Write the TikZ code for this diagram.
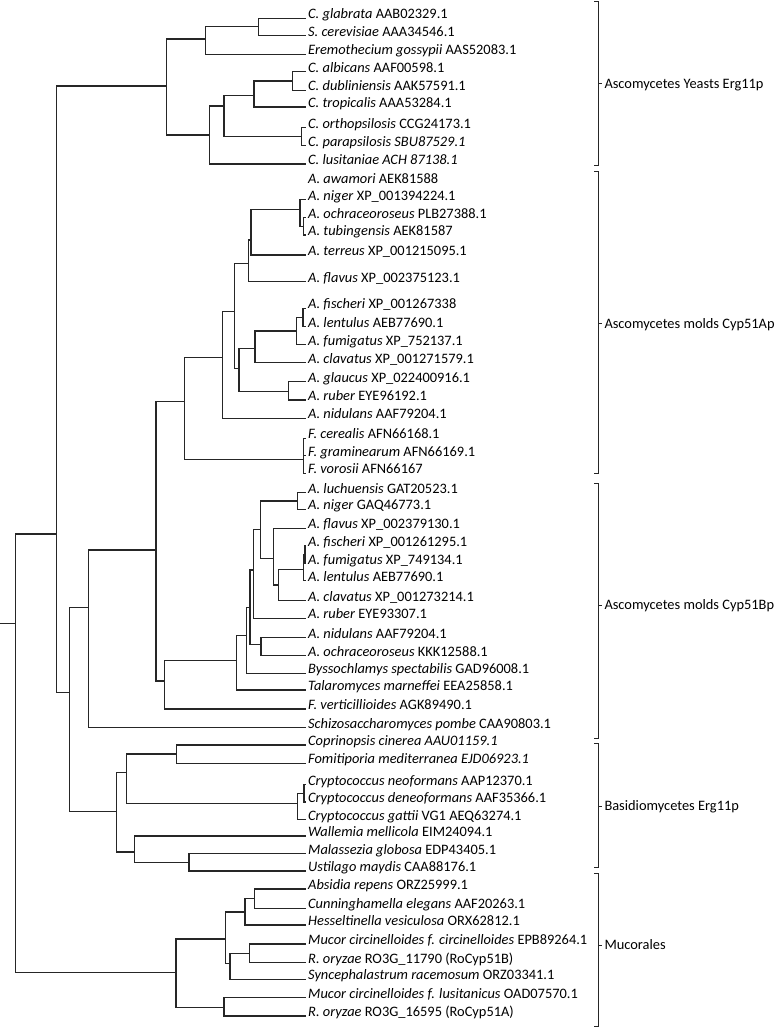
\documentclass[tikz,border=0pt]{standalone}
\usepackage{fontspec}
\setmainfont{Carlito}
\newcommand\mkleaf[3]{\coordinate (#1) at (306,#2);\node[lab] (t#1) at (#1) {#3};}
\newcommand\mknode[3]{\coordinate (#1) at (#2,#3);}
\newcommand\tedge[2]{\draw[br] (#1) |- (#2);}
\newcommand\mkbrace[5]{%
 \coordinate (#1a) at (594,#2); \coordinate (#1b) at (598.3,#2);
 \coordinate (#1c) at (598.3,#3); \coordinate (#1d) at (594,#3);
 \coordinate (#1m) at (598.3,#4); \coordinate (#1n) at (601.7,#4);
 \draw[brk] (#1a) -- (#1b) -- (#1c) -- (#1d);
 \draw[brk] (#1m) -- (#1n);
 \node[grp] (#1t) at (604.3,#4) {#5};}
\begin{document}
\begin{tikzpicture}[x=1bp,y=-1bp,
  br/.style={line width=1.1bp, draw=black!85},
  brk/.style={line width=1bp, draw=black!85},
  lab/.style={anchor=base west, inner sep=0pt, xshift=2bp, yshift=-0.5bp, font=\fontsize{14.4bp}{17bp}\selectfont},
  grp/.style={anchor=base west, inner sep=0pt, yshift=-4.7bp, font=\fontsize{14.4bp}{17bp}\selectfont}]
\fill[white] (0,0) rectangle (777,1027);
\useasboundingbox (0,0) rectangle (777,1027);
% ---- leaves ----
\mkleaf{l1}{18.3}{\textit{C. glabrata} AAB02329.1}
\mkleaf{l2}{35.7}{\textit{S. cerevisiae} AAA34546.1}
\mkleaf{l3}{54.3}{\textit{Eremothecium gossypii} AAS52083.1}
\mkleaf{l4}{71.7}{\textit{C. albicans} AAF00598.1}
\mkleaf{l5}{90.3}{\textit{C. dubliniensis} AAK57591.1}
\mkleaf{l6}{107}{\textit{C. tropicalis} AAA53284.1}
\mkleaf{l7}{127.7}{\textit{C. orthopsilosis} CCG24173.1}
\mkleaf{l8}{145.7}{\textit{C. parapsilosis SBU87529.1}}
\mkleaf{l9}{164}{\textit{C. lusitaniae ACH 87138.1}}
\mkleaf{l10}{183}{\textit{A. awamori} AEK81588}
\mkleaf{l11}{199.5}{\textit{A. niger} XP\_001394224.1}
\mkleaf{l12}{217.5}{\textit{A. ochraceoroseus} PLB27388.1}
\mkleaf{l13}{235}{\textit{A. tubingensis} AEK81587}
\mkleaf{l14}{255}{\textit{A. terreus} XP\_001215095.1}
\mkleaf{l15}{281.7}{\textit{A. flavus} XP\_002375123.1}
\mkleaf{l16}{308.3}{\textit{A. fischeri} XP\_001267338}
\mkleaf{l17}{326.5}{\textit{A. lentulus} AEB77690.1}
\mkleaf{l18}{344.5}{\textit{A. fumigatus} XP\_752137.1}
\mkleaf{l19}{362.5}{\textit{A. clavatus} XP\_001271579.1}
\mkleaf{l20}{381.7}{\textit{A. glaucus} XP\_022400916.1}
\mkleaf{l21}{400}{\textit{A. ruber} EYE96192.1}
\mkleaf{l22}{418.3}{\textit{A. nidulans} AAF79204.1}
\mkleaf{l23}{438.3}{\textit{F. cerealis} AFN66168.1}
\mkleaf{l24}{455.5}{\textit{F. graminearum} AFN66169.1}
\mkleaf{l25}{473.3}{\textit{F. vorosii} AFN66167}
\mkleaf{l26}{492.7}{\textit{A. luchuensis} GAT20523.1}
\mkleaf{l27}{509.3}{\textit{A. niger} GAQ46773.1}
\mkleaf{l28}{528.3}{\textit{A. flavus} XP\_002379130.1}
\mkleaf{l29}{546}{\textit{A. fischeri} XP\_001261295.1}
\mkleaf{l30}{563.5}{\textit{A. fumigatus} XP\_749134.1}
\mkleaf{l31}{580.5}{\textit{A. lentulus} AEB77690.1}
\mkleaf{l32}{600.7}{\textit{A. clavatus} XP\_001273214.1}
\mkleaf{l33}{618.3}{\textit{A. ruber} EYE93307.1}
\mkleaf{l34}{637.5}{\textit{A. nidulans} AAF79204.1}
\mkleaf{l35}{655.5}{\textit{A. ochraceoroseus} KKK12588.1}
\mkleaf{l36}{673.3}{\textit{Byssochlamys spectabilis} GAD96008.1}
\mkleaf{l37}{690}{\textit{Talaromyces marneffei} EEA25858.1}
\mkleaf{l38}{709}{\textit{F. verticillioides} AGK89490.1}
\mkleaf{l39}{727.7}{\textit{Schizosaccharomyces pombe} CAA90803.1}
\mkleaf{l40}{745}{\textit{Coprinopsis cinerea AAU01159.1}}
\mkleaf{l41}{763.3}{\textit{Fomitiporia mediterranea EJD06923.1}}
\mkleaf{l42}{784.5}{\textit{Cryptococcus neoformans} AAP12370.1}
\mkleaf{l43}{802}{\textit{Cryptococcus deneoformans} AAF35366.1}
\mkleaf{l44}{819.5}{\textit{Cryptococcus gattii} VG1 AEQ63274.1}
\mkleaf{l45}{836}{\textit{Wallemia mellicola} EIM24094.1}
\mkleaf{l46}{853.5}{\textit{Malassezia globosa} EDP43405.1}
\mkleaf{l47}{871}{\textit{Ustilago maydis} CAA88176.1}
\mkleaf{l48}{889}{\textit{Absidia repens} ORZ25999.1}
\mkleaf{l49}{908.3}{\textit{Cunninghamella elegans} AAF20263.1}
\mkleaf{l50}{925}{\textit{Hesseltinella vesiculosa} ORX62812.1}
\mkleaf{l51}{944}{\textit{Mucor circinelloides f. circinelloides} EPB89264.1}
\mkleaf{l52}{962.7}{\textit{R. oryzae} RO3G\_11790 (RoCyp51B)}
\mkleaf{l53}{979.3}{\textit{Syncephalastrum racemosum} ORZ03341.1}
\mkleaf{l54}{997.7}{\textit{Mucor circinelloides f. lusitanicus} OAD07570.1}
\mkleaf{l55}{1016}{\textit{R. oryzae} RO3G\_16595 (RoCyp51A)}
% ---- internal nodes ----
\mknode{y1}{258.3}{26.7}
\mknode{y2}{205.7}{39}
\mknode{y3}{292.3}{81}
\mknode{y4}{254}{95.7}
\mknode{y5}{301.7}{136.7}
\mknode{y6}{224}{106}
\mknode{y7}{209.3}{135}
\mknode{Y}{166.7}{86}
\mknode{a1}{303.3}{226.2}
\mknode{a2}{300}{209.3}
\mknode{a3}{251}{240}
\mknode{a4}{248.3}{263.3}
\mknode{a5}{303}{317.4}
\mknode{a6}{296.7}{331}
\mknode{a7}{255}{348.3}
\mknode{a8}{288.3}{391.7}
\mknode{a9}{239}{368.3}
\mknode{a10}{234.3}{311.7}
\mknode{a11}{222.7}{357.3}
\mknode{a12}{303.3}{459.3}
\mknode{A}{184.3}{401.7}
\mknode{b1}{297.3}{501}
\mknode{b2}{305}{554.8}
\mknode{b3}{303.3}{569.3}
\mknode{b4}{278.3}{585}
\mknode{b5}{273.3}{558.3}
\mknode{b6}{260.7}{529.3}
\mknode{b7}{253.3}{570}
\mknode{b8}{261}{644.7}
\mknode{b9}{250}{607.3}
\mknode{b10}{246.7}{635.7}
\mknode{b11}{236.7}{660.7}
\mknode{b12}{164.3}{681}
\mknode{b13}{156}{550}
\mknode{b14}{88.3}{607.3}
\mknode{c1}{176.7}{754}
\mknode{c2}{304}{793.2}
\mknode{c3}{297.8}{803.3}
\mknode{c4}{126.7}{772.7}
\mknode{c5}{189}{862.7}
\mknode{c6}{134.3}{852}
\mknode{C}{116.7}{811.7}
\mknode{g}{69.3}{692.7}
\mknode{h}{56.3}{534}
\mknode{m1}{254.3}{898.7}
\mknode{m2}{245}{912}
\mknode{m3}{249.3}{953.3}
\mknode{m4}{230}{963.3}
\mknode{m5}{225.7}{939}
\mknode{m6}{224}{1007.3}
\mknode{M}{176}{972.7}
\mknode{root}{15.3}{623.3}
\mknode{r0}{0}{623.3}
% ---- connectors ----
\tedge{y1}{l1}\tedge{y1}{l2}
\tedge{y2}{y1}\tedge{y2}{l3}
\tedge{y3}{l4}\tedge{y3}{l5}
\tedge{y4}{y3}\tedge{y4}{l6}
\tedge{y5}{l7}\tedge{y5}{l8}
\tedge{y6}{y4}\tedge{y6}{y5}
\tedge{y7}{y6}\tedge{y7}{l9}
\tedge{Y}{y2}\tedge{Y}{y7}
\tedge{a1}{l12}\tedge{a1}{l13}
\tedge{a2}{l11}\tedge{a2}{a1}
\tedge{a3}{a2}\tedge{a3}{l14}
\tedge{a4}{a3}\tedge{a4}{l15}
\tedge{a5}{l16}\tedge{a5}{l17}
\tedge{a6}{a5}\tedge{a6}{l18}
\tedge{a7}{a6}\tedge{a7}{l19}
\tedge{a8}{l20}\tedge{a8}{l21}
\tedge{a9}{a7}\tedge{a9}{a8}
\tedge{a10}{a4}\tedge{a10}{a9}
\tedge{a11}{a10}\tedge{a11}{l22}
\tedge{a12}{l23}\tedge{a12}{l24}\tedge{a12}{l25}
\tedge{A}{a11}\tedge{A}{a12}
\tedge{b1}{l26}\tedge{b1}{l27}
\tedge{b2}{l29}\tedge{b2}{l30}
\tedge{b3}{b2}\tedge{b3}{l31}
\tedge{b4}{b3}\tedge{b4}{l32}
\tedge{b5}{l28}\tedge{b5}{b4}
\tedge{b6}{b1}\tedge{b6}{b5}
\tedge{b7}{b6}\tedge{b7}{l33}
\tedge{b8}{l34}\tedge{b8}{l35}
\tedge{b9}{b7}\tedge{b9}{b8}
\tedge{b10}{b9}\tedge{b10}{l36}
\tedge{b11}{b10}\tedge{b11}{l37}
\tedge{b12}{b11}\tedge{b12}{l38}
\tedge{b13}{A}\tedge{b13}{b12}
\tedge{b14}{b13}\tedge{b14}{l39}
\tedge{c1}{l40}\tedge{c1}{l41}
\tedge{c2}{l42}\tedge{c2}{l43}
\tedge{c3}{c2}\tedge{c3}{l44}
\tedge{c4}{c1}\tedge{c4}{c3}
\tedge{c5}{l46}\tedge{c5}{l47}
\tedge{c6}{l45}\tedge{c6}{c5}
\tedge{C}{c4}\tedge{C}{c6}
\tedge{g}{b14}\tedge{g}{C}
\tedge{h}{Y}\tedge{h}{g}
\tedge{m1}{l48}\tedge{m1}{l49}
\tedge{m2}{m1}\tedge{m2}{l50}
\tedge{m3}{l51}\tedge{m3}{l52}
\tedge{m4}{m3}\tedge{m4}{l53}
\tedge{m5}{m2}\tedge{m5}{m4}
\tedge{m6}{l54}\tedge{m6}{l55}
\tedge{M}{m5}\tedge{M}{m6}
\tedge{root}{h}\tedge{root}{M}
\draw[br] (r0) -- (root);
% ---- group brackets ----
\mkbrace{k1}{1.7}{165}{83.3}{Ascomycetes Yeasts Erg11p}
\mkbrace{k2}{171.7}{473.3}{323.3}{Ascomycetes molds Cyp51Ap}
\mkbrace{k3}{483.3}{738.3}{605}{Ascomycetes molds Cyp51Bp}
\mkbrace{k4}{743}{867}{806}{Basidiomycetes Erg11p}
\mkbrace{k5}{873.3}{1026}{945}{Mucorales}
\end{tikzpicture}
\end{document}
